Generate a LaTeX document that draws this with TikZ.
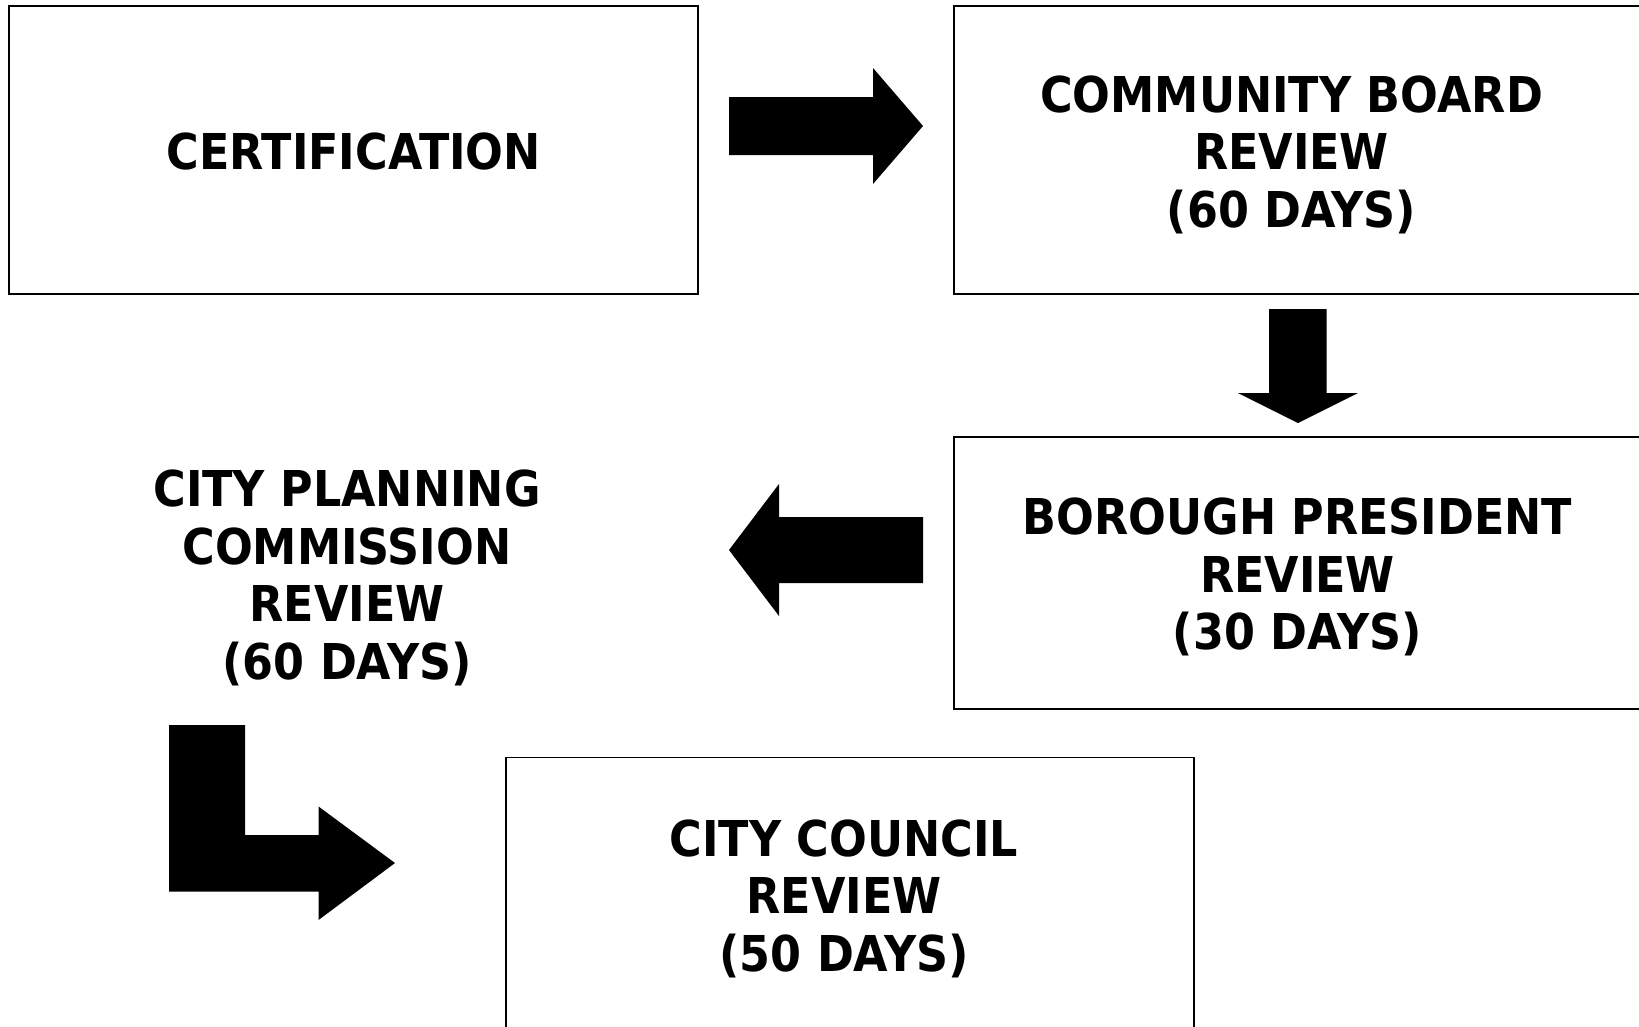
\documentclass[tikz,border=0pt]{standalone}
\usepackage{fontspec}
\usetikzlibrary{calc}
\setmainfont{DejaVu Sans}[FakeStretch=0.9]
\begin{document}
\begin{tikzpicture}[x=1pt,y=-1pt,
  lbl/.style={inner sep=0pt, align=center, font=\bfseries\fontsize{49.4}{57.5}\selectfont},
  box/.style={draw, line width=2pt, inner sep=0pt},
  blockarrow/.style={fill=black, draw=none}]
\useasboundingbox (0,0) rectangle (1639,1026);
\clip (0,0) rectangle (1639,1026);
\fill[white] (0,0) rectangle (1639,1026);
% boxes
\node (cert) [box, minimum width=688.6pt, minimum height=288.3pt] at (353.7,149.9) {};
\node (cb) [box, minimum width=687pt, minimum height=288.3pt] at (1297.5,149.9) {};
\node (bp) [box, minimum width=687pt, minimum height=272pt] at (1297.5,573) {};
\node (cc) [box, line width=1.6pt, minimum width=688pt, minimum height=272.5pt] at (850,893.8) {};
% labels
\node (certt) [lbl] at ($(cert.center)+(0,2)$) {CERTIFICATION};
\node (cbt) [lbl] at ($(cb.center)+(-6,5)$) {COMMUNITY BOARD\\REVIEW\\(60 DAYS)};
\node (bpt) [lbl] at ($(bp.center)+(0,4)$) {BOROUGH PRESIDENT\\REVIEW\\(30 DAYS)};
\node (cct) [lbl] at ($(cc.center)+(-6,5)$) {CITY COUNCIL\\REVIEW\\(50 DAYS)};
\node (cpc) [lbl] at (347,578) {CITY PLANNING\\COMMISSION\\REVIEW\\(60 DAYS)};
% block arrows
\fill[blockarrow] (729,97) -- (873,97) -- (873,68) -- (923,126) -- (873,184) -- (873,155) -- (729,155) -- cycle;
\fill[blockarrow] (1269,309) -- (1326.5,309) -- (1326.5,393) -- (1358,393) -- (1298,423) -- (1238,393) -- (1269,393) -- cycle;
\fill[blockarrow] (923,517) -- (779,517) -- (779,484) -- (729,550) -- (779,616) -- (779,583) -- (923,583) -- cycle;
\fill[blockarrow] (169,725) -- (245,725) -- (245,835) -- (318.5,835) -- (318.5,806.5) -- (395,863) -- (318.5,920) -- (318.5,891.6) -- (169,891.6) -- cycle;
\end{tikzpicture}
\end{document}
